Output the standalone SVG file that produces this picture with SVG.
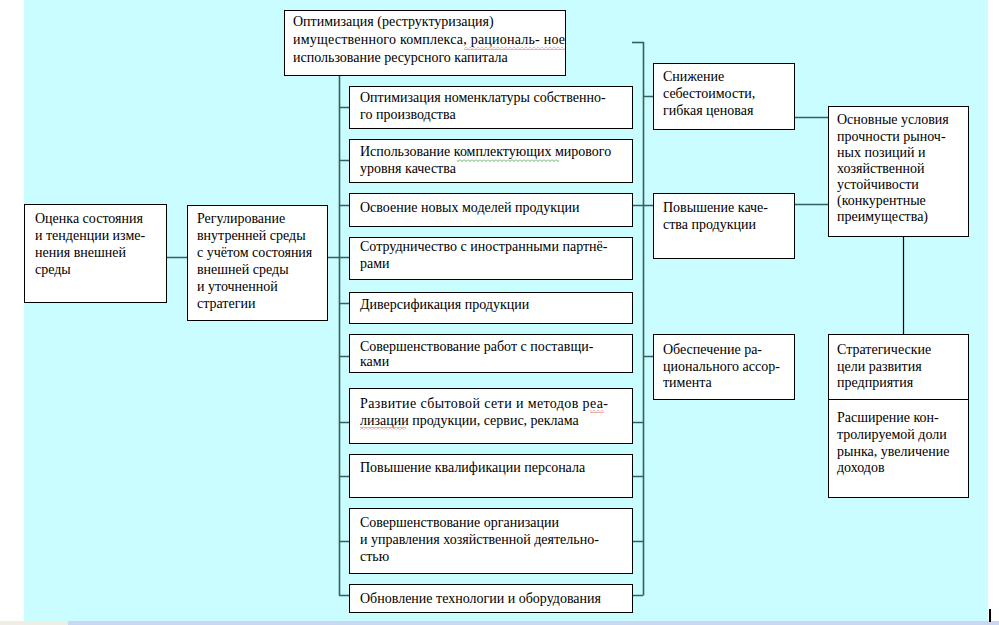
<svg xmlns="http://www.w3.org/2000/svg" width="999" height="625" viewBox="0 0 999 625">
<style>
.box{fill:#fff;stroke:#000;stroke-width:1}
.t{font-family:"Liberation Serif","Times New Roman",serif;font-size:14px;fill:#000}
.c{stroke:#365F5F;stroke-width:1.6;fill:none}
.k{stroke:#000;stroke-width:1.2;fill:none}
</style>
<defs>
<pattern id="wr" x="0" y="0" width="4" height="3" patternUnits="userSpaceOnUse"><path d="M0,0.5 L2,2.5 L4,0.5" stroke="#E03030" stroke-width="0.8" fill="none"/></pattern>
<pattern id="wg" x="0" y="0" width="4" height="3" patternUnits="userSpaceOnUse"><path d="M0,0.5 L2,2.5 L4,0.5" stroke="#3A9A3A" stroke-width="0.8" fill="none"/></pattern>
</defs>
<rect x="0" y="0" width="999" height="625" fill="#fff"/>
<rect x="24" y="0" width="964" height="621" fill="#C9FDFF"/>
<rect x="0" y="621" width="68" height="4" fill="#EFEDE4"/>
<rect x="68" y="621" width="931" height="4" fill="#C9D7F2"/>
<rect x="989" y="609" width="2" height="13" fill="#000"/>

<g id="connectors">
<path class="c" d="M166,257.5H187M327,257.5H349"/>
<path class="c" d="M339.5,75V595.5"/>
<path class="c" d="M339,107.5H349M339,160.5H349M339,205.5H349M339,303.5H349M339,356.5H349M339,422.5H349M339,476.5H349M339,541.5H349M339,595.5H349"/>
<path class="c" d="M643.5,42V595.5"/>
<path class="c" d="M632,42.5H643.5"/>
<path class="c" d="M632,205.5H653M632,422.5H643M632,476.5H643M632,541.5H643M632,595.5H643"/>
<path class="c" d="M643,96.5H653M643,356.5H653"/>
<path class="c" d="M794,117.5H828M794,204.5H828"/>
<path class="k" d="M903.5,236V334"/>
</g>

<g id="node-top">
<rect class="box" x="284.5" y="10.5" width="281" height="65"/>
<text class="t" x="293" y="26">Оптимизация (реструктуризация)</text>
<text class="t" x="293" y="44" textLength="272" lengthAdjust="spacing">имущественного комплекса, рациональ- ное</text>
<text class="t" x="293" y="62">использование ресурсного капитала</text>
<rect x="464" y="47" width="101" height="3" fill="url(#wr)"/>
</g>

<g id="node-left1">
<rect class="box" x="24.5" y="204.5" width="142" height="98"/>
<text class="t" x="35" y="223">Оценка состояния</text>
<text class="t" x="35" y="240">и тенденции изме-</text>
<text class="t" x="35" y="257">нения внешней</text>
<text class="t" x="35" y="274">среды</text>
</g>

<g id="node-left2">
<rect class="box" x="187.5" y="205.5" width="140" height="115"/>
<text class="t" x="197" y="223">Регулирование</text>
<text class="t" x="197" y="240">внутренней среды</text>
<text class="t" x="197" y="257">с учётом состояния</text>
<text class="t" x="197" y="274">внешней среды</text>
<text class="t" x="197" y="291">и уточненной</text>
<text class="t" x="197" y="308">стратегии</text>
</g>

<g id="node-m1">
<rect class="box" x="349.5" y="86.5" width="283" height="42"/>
<text class="t" x="360" y="102">Оптимизация номенклатуры собственно-</text>
<text class="t" x="360" y="119">го производства</text>
</g>

<g id="node-m2">
<rect class="box" x="349.5" y="139.5" width="283" height="43"/>
<text class="t" x="360" y="156">Использование комплектующих мирового</text>
<text class="t" x="360" y="173">уровня качества</text>
<rect x="457" y="159" width="102" height="3" fill="url(#wg)"/>
</g>

<g id="node-m3">
<rect class="box" x="349.5" y="193.5" width="283" height="33"/>
<text class="t" x="360" y="212">Освоение новых моделей продукции</text>
</g>

<g id="node-m4">
<rect class="box" x="349.5" y="237.5" width="283" height="42"/>
<text class="t" x="360" y="251">Сотрудничество с иностранными партнё-</text>
<text class="t" x="360" y="268">рами</text>
</g>

<g id="node-m5">
<rect class="box" x="349.5" y="292.5" width="283" height="31"/>
<text class="t" x="360" y="309">Диверсификация продукции</text>
</g>

<g id="node-m6">
<rect class="box" x="349.5" y="334.5" width="283" height="38"/>
<text class="t" x="360" y="351">Совершенствование работ с поставщи-</text>
<text class="t" x="360" y="366">ками</text>
</g>

<g id="node-m7">
<rect class="box" x="349.5" y="388.5" width="283" height="55"/>
<text class="t" x="360" y="408" textLength="248" lengthAdjust="spacing">Развитие сбытовой сети и методов реа-</text>
<text class="t" x="360" y="425">лизации продукции, сервис, реклама</text>
<rect x="590" y="410" width="14" height="3" fill="url(#wr)"/>
<rect x="360" y="427" width="46" height="3" fill="url(#wr)"/>
</g>

<g id="node-m8">
<rect class="box" x="349.5" y="454.5" width="283" height="43"/>
<text class="t" x="360" y="472">Повышение квалификации персонала</text>
</g>

<g id="node-m9">
<rect class="box" x="349.5" y="508.5" width="283" height="65"/>
<text class="t" x="360" y="527">Совершенствование организации</text>
<text class="t" x="360" y="544">и управления хозяйственной деятельно-</text>
<text class="t" x="360" y="561">стью</text>
</g>

<g id="node-m10">
<rect class="box" x="349.5" y="584.5" width="283" height="28"/>
<text class="t" x="360" y="603">Обновление технологии и оборудования</text>
</g>

<g id="node-a">
<rect class="box" x="653.5" y="63.5" width="141" height="66"/>
<text class="t" x="663" y="81">Снижение</text>
<text class="t" x="663" y="98">себестоимости,</text>
<text class="t" x="663" y="115">гибкая ценовая</text>
</g>

<g id="node-b">
<rect class="box" x="653.5" y="193.5" width="141" height="65"/>
<text class="t" x="663" y="212">Повышение каче-</text>
<text class="t" x="663" y="229">ства продукции</text>
</g>

<g id="node-c">
<rect class="box" x="653.5" y="334.5" width="141" height="65"/>
<text class="t" x="663" y="354">Обеспечение ра-</text>
<text class="t" x="663" y="371">ционального ассор-</text>
<text class="t" x="663" y="387">тимента</text>
</g>

<g id="node-main">
<rect class="box" x="828.5" y="106.5" width="140" height="130"/>
<text class="t" x="837" y="124">Основные условия</text>
<text class="t" x="837" y="141">прочности рыноч-</text>
<text class="t" x="837" y="157">ных позиций и</text>
<text class="t" x="837" y="173">хозяйственной</text>
<text class="t" x="837" y="189">устойчивости</text>
<text class="t" x="837" y="205">(конкурентные</text>
<text class="t" x="837" y="221">преимущества)</text>
</g>

<g id="node-goals">
<rect class="box" x="828.5" y="334.5" width="140" height="163"/>
<path class="k" d="M828.5,399.5H968.5" stroke-width="1"/>
<text class="t" x="837" y="354">Стратегические</text>
<text class="t" x="837" y="371">цели развития</text>
<text class="t" x="837" y="387">предприятия</text>
<text class="t" x="837" y="422">Расширение кон-</text>
<text class="t" x="837" y="439">тролируемой доли</text>
<text class="t" x="837" y="456">рынка, увеличение</text>
<text class="t" x="837" y="472">доходов</text>
</g>
</svg>
